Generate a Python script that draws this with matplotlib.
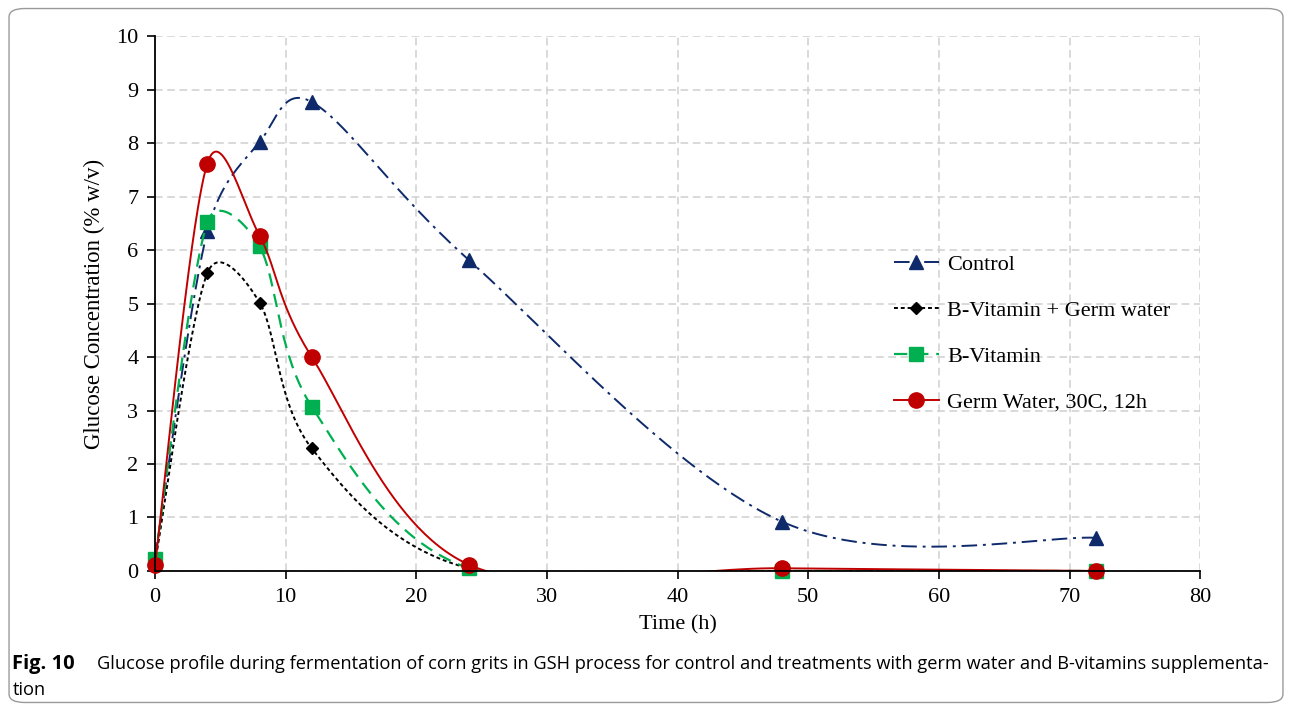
import numpy as np
import matplotlib

matplotlib.use("Agg")
import matplotlib.pyplot as plt  # noqa: E402
from matplotlib.patches import FancyBboxPatch  # noqa: E402

# sampling times (h)
time_h = [0, 4, 8, 12, 24, 48, 72]

control = [0.25, 6.35, 8.02, 8.77, 5.82, 0.92, 0.62]
bvit_germ = [0.15, 5.57, 5.02, 2.29, 0.05, 0.0, 0.0]
bvit = [0.22, 6.52, 6.07, 3.07, 0.05, 0.0, 0.0]
germ = [0.12, 7.62, 6.27, 4.0, 0.12, 0.05, 0.0]

labels = ["Control", "B-Vitamin + Germ water", "B-Vitamin", "Germ Water, 30C, 12h"]


def smooth(xs, ys, sx, sy, n=60):
    # Excel-like smoothed line: Bezier segments, Catmull-Rom tangents (1/6),
    # tangent length capped at half the segment length (in screen units)
    p = np.column_stack([np.asarray(xs) * sx, np.asarray(ys) * sy]).astype(float)
    ext = np.vstack([p[0], p, p[-1]])
    t = np.linspace(0, 1, n)[:, None]
    out = []
    for i in range(len(p) - 1):
        p0, p1, p2, p3 = ext[i], ext[i + 1], ext[i + 2], ext[i + 3]
        half = np.linalg.norm(p2 - p1) / 2
        t1 = (p2 - p0) / 6
        t2 = (p3 - p1) / 6
        for tv in (t1, t2):
            ln = np.linalg.norm(tv)
            if ln > half > 0:
                tv *= half / ln
        c1 = p1 + t1
        c2 = p2 - t2
        seg = (1 - t) ** 3 * p1 + 3 * (1 - t) ** 2 * t * c1 + 3 * (1 - t) * t ** 2 * c2 + t ** 3 * p2
        out.append(seg)
    out = np.vstack(out)
    return out[:, 0] / sx, out[:, 1] / sy


fig = plt.figure(figsize=(12.92, 7.11), dpi=100)
fig.patches.append(FancyBboxPatch((0.007, 0.012), 0.986, 0.976, boxstyle="round,pad=0,rounding_size=0.012",
                                  transform=fig.transFigure, fill=False, edgecolor="#9a9a9a", linewidth=1.0))
ax_box = [0.12, 0.197, 0.809, 0.752]
ax = fig.add_axes(ax_box)
px_x = ax_box[2] * 1292 / 80
px_y = ax_box[3] * 711 / 10

serif = "Liberation Serif"
styles = [
    dict(color="#0e2a6b", ls=(0, (8, 3, 1.5, 3)), marker="^", ms=10.5, lw=1.4),
    dict(color="#000000", ls=(0, (2, 1.5)), marker="D", ms=6.5, lw=1.4),
    dict(color="#00b050", ls=(0, (6, 3.5)), marker="s", ms=9.5, lw=1.6),
    dict(color="#c00000", ls="-", marker="o", ms=11, lw=1.4),
]
series = [control, bvit_germ, bvit, germ]

for k, (ys, st, lab) in enumerate(zip(series, styles, labels)):
    cx, cy = smooth(time_h, ys, px_x, px_y)
    ax.plot(cx, cy, color=st["color"], ls=st["ls"], lw=st["lw"], zorder=3 + k)
    ax.plot(time_h, ys, ls="none", marker=st["marker"], ms=st["ms"], color=st["color"],
            zorder=3.5 + k, clip_on=False)
    ax.plot([], [], color=st["color"], ls=st["ls"], lw=st["lw"], marker=st["marker"], ms=st["ms"], label=lab)

ax.set_xlim(0, 80)
ax.set_ylim(0, 10)
ax.set_xticks(range(0, 81, 10))
ax.set_yticks(range(0, 11))
ax.grid(True, color="#d0d0d0", ls=(0, (5, 3)), lw=1.1)
ax.set_axisbelow(True)
for s in ["top", "right"]:
    ax.spines[s].set_visible(False)
for s in ["left", "bottom"]:
    ax.spines[s].set_linewidth(1.3)
    ax.spines[s].set_zorder(10)
ax.tick_params(direction="out", length=6, width=1.2, labelsize=16, pad=6)
for lbl in ax.get_xticklabels() + ax.get_yticklabels():
    lbl.set_fontfamily(serif)
ax.set_xlabel("Time (h)", fontsize=16, family=serif, labelpad=6)
ax.set_ylabel("Glucose Concentration (% w/v)", fontsize=16.5, family=serif, labelpad=8)

ax.legend(loc="upper left", bbox_to_anchor=(0.688, 0.63), frameon=False, prop=dict(family=serif, size=16),
          labelspacing=1.15, handlelength=2.0, handletextpad=0.4)

cap = "Open Sans"
fig.text(0.0095, 0.066, "Fig. 10", fontsize=14.5, family=cap, weight="bold", va="center")
fig.text(0.075, 0.066,
         "Glucose profile during fermentation of corn grits in GSH process for control and treatments with germ water and B-vitamins supplementa-",
         fontsize=13.15, family=cap, va="center")
fig.text(0.0095, 0.030, "tion", fontsize=13.15, family=cap, va="center")

fig.savefig("out.png", dpi=100)
